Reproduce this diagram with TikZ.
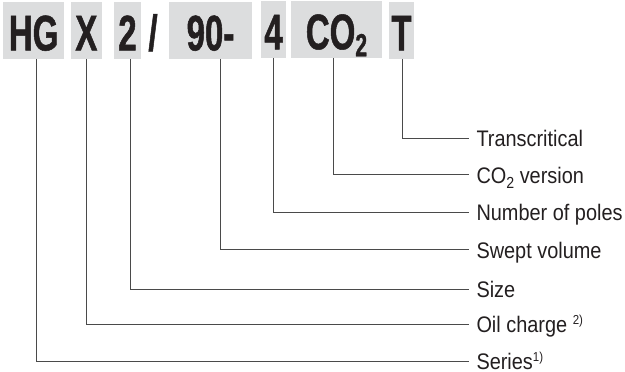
\documentclass[tikz,border=0pt]{standalone}
\usepackage{fontspec}
\setmainfont{Liberation Sans}
\newfontfamily\labelfont[FakeStretch=0.885]{Liberation Sans}
\newfontfamily\codefont[FakeStretch=0.66,FakeBold=1]{Liberation Sans Bold}
\definecolor{boxgray}{HTML}{DCDDDE}
\definecolor{ink}{HTML}{231F20}
\definecolor{linegray}{HTML}{4A4A4A}
\newcommand{\codesub}[1]{\raisebox{-7pt}{\fontsize{32}{32}\selectfont #1}}
\newcommand{\labsub}[1]{\raisebox{-5pt}{\fontsize{16}{16}\selectfont #1}}
\newcommand{\labsup}[1]{\raisebox{8pt}{\fontsize{13}{13}\selectfont #1}}
\begin{document}
\begin{tikzpicture}[x=1pt,y=-1pt,
  codebox/.style={fill=boxgray, inner sep=0pt, text height=39.8pt, text depth=0pt,
    font=\codefont\fontsize{50}{50}\selectfont, text=ink, anchor=center},
  codetext/.style={inner sep=0pt, text height=39.8pt, text depth=0pt,
    font=\codefont\fontsize{50}{50}\selectfont, text=ink, anchor=center},
  lab/.style={anchor=west, inner xsep=7pt, inner ysep=0pt, text height=17.1pt, text depth=0pt,
    font=\labelfont\fontsize{22.5}{23}\selectfont, text=ink},
  conn/.style={draw=linegray, line width=0.9pt}]
\useasboundingbox (0,0) rectangle (625,372);

% code boxes
\node[codebox, minimum width=60.7pt, minimum height=56.4pt] (hg) at (33.65,30.5) {HG};
\node[codebox, minimum width=30.7pt, minimum height=56.4pt] (x) at (86.35,30.5) {X};
\node[codebox, minimum width=27pt, minimum height=56.4pt] (two) at (127.5,30.5) {2};
\node[codetext] (slash) at (153,30.5) {/};
\node[codebox, minimum width=83pt, minimum height=56.4pt] (ninety) at (210.5,30.5) {90-};
\node[codebox, minimum width=25pt, minimum height=56.7pt] (four) at (273.5,29.35) {4};
\node[codebox, minimum width=91pt, minimum height=56.7pt] (co) at (336.5,29.35) {CO\codesub{2}};
\node[codebox, minimum width=25pt, minimum height=56.4pt] (t) at (401.5,30.5) {T};

% labels
\node[lab] (ltrans) at (469.3,138.3) {Transcritical};
\node[lab] (lco) at (469.3,174.5) {CO\labsub{2} version};
\node[lab] (lpoles) at (469.3,212) {Number of poles};
\node[lab] (lswept) at (469.3,249.5) {Swept volume};
\node[lab] (lsize) at (469.3,289.3) {Size};
\node[lab] (loil) at (469.3,324.2) {Oil charge \labsup{2)}};
\node[lab, text height=15.1pt] (lseries) at (469.3,361.7) {Series\labsup{1)}};

% connectors
\draw[conn] ([xshift=0.5pt]t.south) |- (ltrans.west);
\draw[conn] ([xshift=-2.8pt]co.south) |- (lco.west);
\draw[conn] ([xshift=-0.2pt]four.south) |- (lpoles.west);
\draw[conn] ([xshift=10.2pt]ninety.south) |- (lswept.west);
\draw[conn] ([xshift=2.5pt]two.south) |- (lsize.west);
\draw[conn] ([xshift=-0.35pt]x.south) |- (loil.west);
\draw[conn] ([xshift=3pt]hg.south) |- (lseries.west);
\end{tikzpicture}
\end{document}
